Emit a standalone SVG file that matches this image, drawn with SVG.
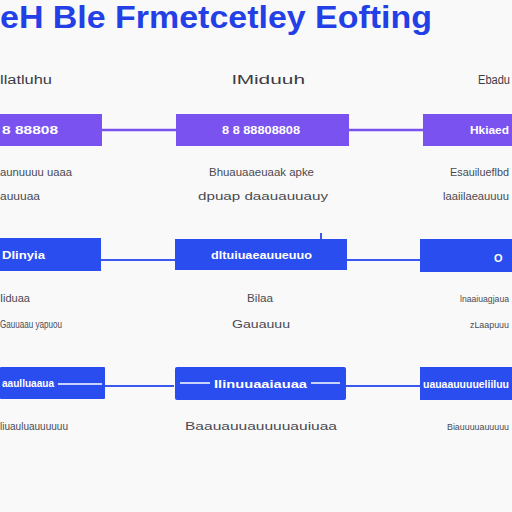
<svg xmlns="http://www.w3.org/2000/svg" width="512" height="512" viewBox="0 0 512 512">
<style>
.title{font-family:"Liberation Sans","DejaVu Sans",sans-serif;font-weight:bold;font-size:31px;fill:#2340e6}
.hdr{font-family:"Liberation Sans","DejaVu Sans",sans-serif;font-size:12px;fill:#3c3c46}
.lbl{font-family:"Liberation Sans","DejaVu Sans",sans-serif;font-size:11px;fill:#4a4a52}
.sm{font-size:9px}
.bt{font-family:"Liberation Sans","DejaVu Sans",sans-serif;font-size:11px;font-weight:bold;fill:#ffffff}
.pur{fill:#7a52f0}
.blu{fill:#2a4df0}
.cp{stroke:#7a52f0;stroke-width:2.5;fill:none}
.cb{stroke:#3a58ee;stroke-width:2;fill:none}
.wl{stroke:#ffffff;stroke-width:1.5}
</style>
<rect width="512" height="512" fill="#f9f9f9"/>
<text class="title" x="0" y="28" textLength="432" lengthAdjust="spacingAndGlyphs">eH Ble Frmetcetley Eofting</text>

<g id="connectors">
<line class="cp" x1="102" y1="130" x2="176" y2="130"/>
<line class="cp" x1="349" y1="130" x2="423" y2="130"/>
<line class="cb" x1="101" y1="260" x2="175" y2="260"/>
<line class="cb" x1="347" y1="260" x2="420" y2="260"/>
<line class="cb" x1="321" y1="233" x2="321" y2="239" stroke-width="1"/>
<line class="cb" x1="105" y1="386" x2="174" y2="386"/>
<line class="cb" x1="346" y1="386" x2="420" y2="386"/>
</g>

<g id="hdr1"><text class="hdr" x="0" y="84" textLength="52" lengthAdjust="spacingAndGlyphs">llatluhu</text></g>
<g id="hdr2"><text class="hdr" x="232" y="84" textLength="73" lengthAdjust="spacingAndGlyphs">lMiduuh</text></g>
<g id="hdr3"><text class="hdr" x="478" y="84" textLength="32" lengthAdjust="spacingAndGlyphs">Ebadu</text></g>

<g id="n11"><rect class="pur" x="0" y="114" width="102" height="32"/><text class="bt" x="2" y="134" textLength="56" lengthAdjust="spacingAndGlyphs">8 88808</text></g>
<g id="n12"><rect class="pur" x="176" y="114" width="173" height="32"/><text class="bt" x="222" y="134" textLength="78" lengthAdjust="spacingAndGlyphs">8 8 88808808</text></g>
<g id="n13"><rect class="pur" x="423" y="114" width="89" height="32"/><text class="bt" x="470" y="134" textLength="39" lengthAdjust="spacingAndGlyphs">Hkiaed</text></g>

<g id="t11"><text class="lbl" x="0" y="176" textLength="72" lengthAdjust="spacingAndGlyphs">aunuuuu uaaa</text><text class="lbl" x="0" y="200" textLength="40" lengthAdjust="spacingAndGlyphs">auuuaa</text></g>
<g id="t12"><text class="lbl" x="209" y="176" textLength="105" lengthAdjust="spacingAndGlyphs">Bhuauaaeuaak apke</text><text class="lbl" x="198" y="200" textLength="130" lengthAdjust="spacingAndGlyphs">dpuap daauauuauy</text></g>
<g id="t13"><text class="lbl" x="450" y="176" textLength="59" lengthAdjust="spacingAndGlyphs">Esauilueflbd</text><text class="lbl" x="443" y="200" textLength="66" lengthAdjust="spacingAndGlyphs">laaiilaeauuuu</text></g>

<g id="n21"><rect class="blu" x="0" y="238" width="101" height="33"/><text class="bt" x="2" y="259" textLength="43" lengthAdjust="spacingAndGlyphs">Dlinyia</text></g>
<g id="n22"><rect class="blu" x="175" y="239" width="172" height="31"/><text class="bt" x="211" y="259" textLength="101" lengthAdjust="spacingAndGlyphs">dltuiuaeauueuuo</text></g>
<g id="n23"><rect class="blu" x="420" y="239" width="92" height="33"/><text class="bt" x="494" y="262" font-size="17">O</text></g>

<g id="t21"><text class="lbl" x="0" y="302" textLength="30" lengthAdjust="spacingAndGlyphs">Iiduaa</text><text class="lbl" x="0" y="328" textLength="62" lengthAdjust="spacingAndGlyphs">Gauuaau yapuou</text></g>
<g id="t22"><text class="lbl" x="247" y="302" textLength="26" lengthAdjust="spacingAndGlyphs">Bilaa</text><text class="lbl" x="232" y="328" textLength="58" lengthAdjust="spacingAndGlyphs">Gauauuu</text></g>
<g id="t23"><text class="lbl sm" x="460" y="302" textLength="49" lengthAdjust="spacingAndGlyphs">lnaaiuagjaua</text><text class="lbl sm" x="470" y="328" textLength="39" lengthAdjust="spacingAndGlyphs">zLaapuuu</text></g>

<g id="n31"><rect class="blu" x="0" y="367" width="105" height="32" rx="1"/><text class="bt" x="2" y="387" textLength="52" lengthAdjust="spacingAndGlyphs">aaulluaaua</text><line class="wl" x1="58" y1="384" x2="102" y2="384"/></g>
<g id="n32"><rect class="blu" x="175" y="367" width="171" height="33" rx="2"/><line class="wl" x1="180" y1="383" x2="210" y2="383"/><text class="bt" x="214" y="388" textLength="93" lengthAdjust="spacingAndGlyphs">Ilinuuaaiauaa</text><line class="wl" x1="311" y1="383" x2="340" y2="383"/></g>
<g id="n33"><rect class="blu" x="420" y="367" width="92" height="33"/><text class="bt" x="423" y="388" textLength="86" lengthAdjust="spacingAndGlyphs">uauaauuuueliiluu</text></g>

<g id="t31"><text class="lbl" x="0" y="430" textLength="68" lengthAdjust="spacingAndGlyphs">liuauluauuuuuu</text></g>
<g id="t32"><text class="lbl" x="185" y="430" textLength="152" lengthAdjust="spacingAndGlyphs">Baauauuauuuuauiuaa</text></g>
<g id="t33"><text class="lbl sm" x="447" y="430" textLength="62" lengthAdjust="spacingAndGlyphs">Biauuuuauuuuu</text></g>
</svg>
